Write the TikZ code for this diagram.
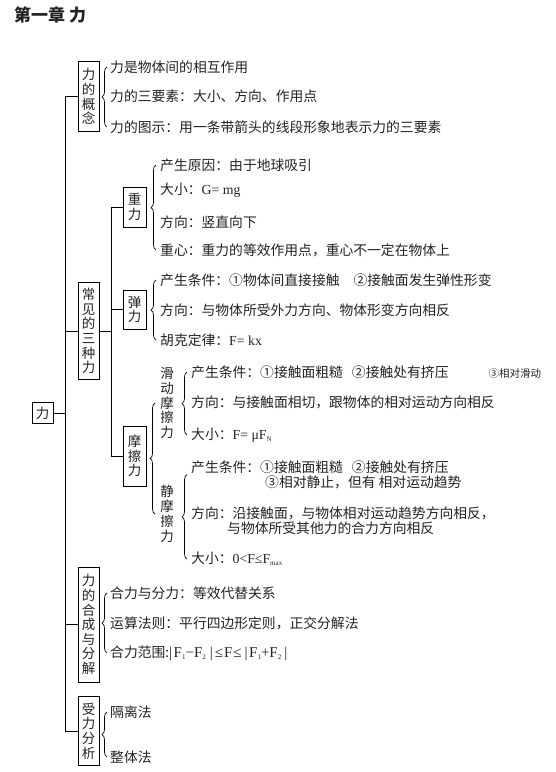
\documentclass[tikz,border=0pt]{standalone}
\usepackage{fontspec}
\setmainfont{Noto Sans CJK SC}
\newfontfamily\tms{Liberation Serif}
\usetikzlibrary{decorations.pathreplacing}
\definecolor{tcol}{RGB}{35,35,35}
\newcommand\mysub[1]{\raisebox{-0.35ex}{\fontsize{7}{7}\selectfont #1}}
\begin{document}
\begin{tikzpicture}[x=1pt,y=-1pt,
  txt/.style={anchor=west,inner sep=0pt,align=left,font=\fontsize{13.8}{15}\selectfont,text=tcol},
  vbox/.style={draw,line width=0.8pt,inner sep=0pt,minimum width=21pt,align=center,font=\fontsize{13.5}{14.6}\selectfont,text=tcol},
  vlab/.style={inner sep=0pt,align=center,font=\fontsize{13.5}{14.8}\selectfont,text=tcol},
  ln/.style={line width=0.8pt},
  brc/.style={decorate,decoration={brace,amplitude=5pt},line width=0.7pt}]
\useasboundingbox (0,0) rectangle (555,772);
\fill[white] (0,0) rectangle (555,772);
\node[anchor=west,inner sep=0pt,font=\fontsize{17}{17}\selectfont\bfseries,text=tcol] (title) at (14,15) {第一章 力};

% root and first spine
\node[vbox,minimum height=21pt] (root) at (42.5,413) {力};
\coordinate (sp) at (65,0);
\node[vbox,minimum height=70pt] (gn) at (88.5,96.5) {力\\的\\概\\念};
\node[vbox,minimum height=97pt] (sj) at (88.5,331) {常\\见\\的\\三\\种\\力};
\node[vbox,minimum height=115pt] (hc) at (88.5,624.5) {力\\的\\合\\成\\与\\分\\解};
\node[vbox,minimum height=69pt] (sl) at (88.5,731) {受\\力\\分\\析};
\draw[ln] (gn.west -| sp) -- (sl.west -| sp);
\draw[ln] (root.east) -- (root.east -| sp);
\foreach \n in {gn,sj,hc,sl} \draw[ln] (\n.west) -- (\n.west -| sp);

% second spine
\coordinate (sp2) at (111,0);
\node[vbox,minimum width=23pt,minimum height=40pt] (zl) at (134.5,207) {重\\力};
\node[vbox,minimum width=23pt,minimum height=39pt] (tl) at (134.5,309.5) {弹\\力};
\node[vbox,minimum width=23pt,minimum height=60pt] (mc) at (134.5,456) {摩\\擦\\力};
\draw[ln] (zl.west -| sp2) -- (mc.west -| sp2);
\draw[ln] (sj.east) -- (sj.east -| sp2);
\foreach \n in {zl,tl,mc} \draw[ln] (\n.west) -- (\n.west -| sp2);

% 力的概念
\node[txt] (g1) at (110,67) {力是物体间的相互作用};
\node[txt] (g2) at (110,96.5) {力的三要素：大小、方向、作用点};
\node[txt] (g3) at (110,127) {力的图示：用一条带箭头的线段形象地表示力的三要素};
\draw[brc] ([xshift=-3pt]g3.west) -- ([xshift=-3pt]g1.west);

% 重力
\node[txt] (z1) at (160,165) {产生原因：由于地球吸引};
\node[txt] (z2) at (160,190) {大小：{\tms G= mg}};
\node[txt] (z3) at (160,222) {方向：竖直向下};
\node[txt] (z4) at (160,250) {重心：重力的等效作用点，重心不一定在物体上};
\draw[brc] ([xshift=-4pt]z4.west) -- ([xshift=-4pt]z1.west);

% 弹力
\node[txt] (t1) at (160,280) {产生条件：①物体间直接接触\hspace{14pt}②接触面发生弹性形变};
\node[txt] (t2) at (160,310) {方向：与物体所受外力方向、物体形变方向相反};
\node[txt] (t3) at (160,340) {胡克定律：{\tms F= kx}};
\draw[brc] ([xshift=-4pt]t3.west) -- ([xshift=-4pt]t1.west);

% 摩擦力
\node[vlab] (hd) at (167,403) {滑\\动\\摩\\擦\\力};
\node[vlab] (jm) at (167,514) {静\\摩\\擦\\力};
\draw[brc] ([xshift=-5pt]jm.west) -- ([xshift=-5pt]hd.west);

\node[txt] (h1) at (191,372) {产生条件：①接触面粗糙\hspace{9pt}②接触处有挤压\hspace{40pt}{\fontsize{10.5}{12}\selectfont ③相对滑动}};
\node[txt] (h2) at (191,402) {方向：与接触面相切，跟物体的相对运动方向相反};
\node[txt] (h3) at (191,435) {大小：{\tms F= μF\mysub{N}}};
\draw[brc] ([xshift=-4pt]h3.west) -- ([xshift=-4pt]h1.west);

\node[txt] (j1) at (191,474.5) {产生条件：①接触面粗糙\hspace{9pt}②接触处有挤压\\\hspace{74pt}③相对静止，但有 相对运动趋势};
\node[txt] (j2) at (191,520.5) {方向：沿接触面，与物体相对运动趋势方向相反，\\\hspace{36pt}与物体所受其他力的合力方向相反};
\node[txt] (j3) at (191,559) {大小：{\tms 0<F≤F\mysub{max}}};
\draw[brc] ([xshift=-4pt]j3.west) -- ([xshift=-4pt]j1.west);

% 合成与分解
\node[txt] (c1) at (110,593) {合力与分力：等效代替关系};
\node[txt] (c2) at (110,623) {运算法则：平行四边形定则，正交分解法};
\node[txt] (c3) at (110,653) {合力范围:{\tms\fontsize{15}{15}\selectfont |\hspace{1.5pt}F\mysub{1}−F\mysub{2}\hspace{4pt}|\hspace{2pt}≤\hspace{1pt}F\hspace{1pt}≤\hspace{3pt}|\hspace{1.5pt}F\mysub{1}+F\mysub{2}\hspace{3pt}|}};
\draw[brc] ([xshift=-3pt]c3.west) -- ([xshift=-3pt]c1.west);

% 受力分析
\node[txt] (s1) at (110,712) {隔离法};
\node[txt] (s2) at (110,757) {整体法};
\draw[brc] ([xshift=-3pt]s2.west) -- ([xshift=-3pt]s1.west);
\end{tikzpicture}
\end{document}
